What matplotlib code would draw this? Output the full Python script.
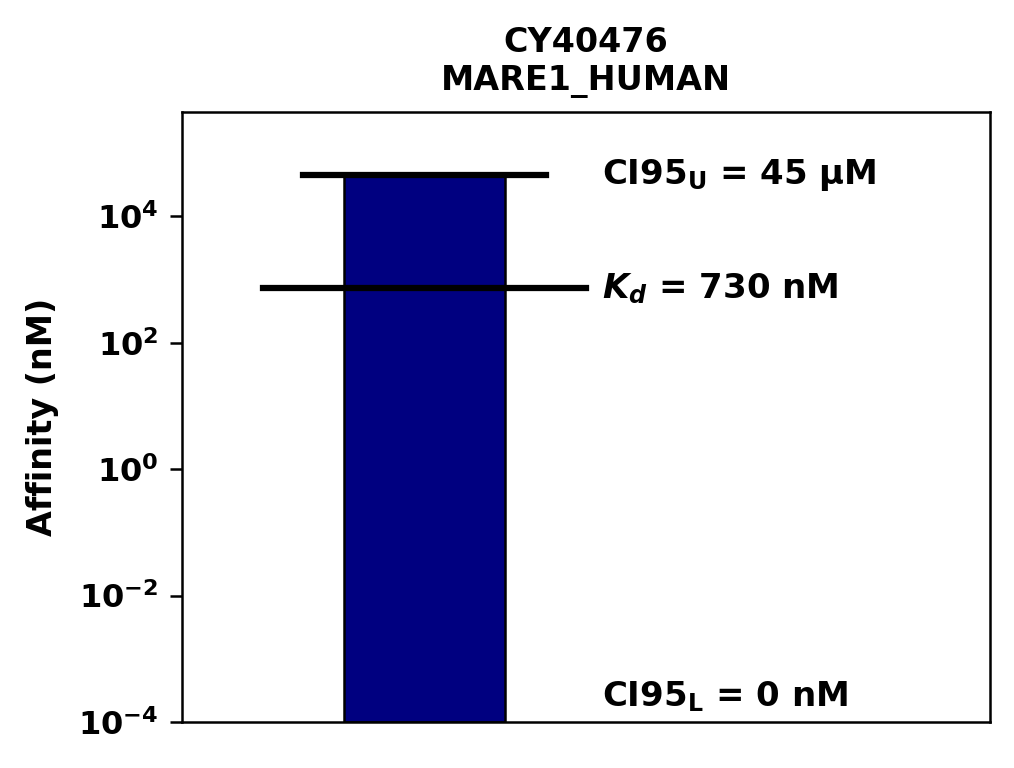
import matplotlib
matplotlib.use('Agg')
import matplotlib.pyplot as plt

# valeurs (nM)
compound = "CY40476"
target = "MARE1_HUMAN"
kd = 730.0
ci_upper = 45000.0
ci_lower = 1e-4
labels = [r"CI95$_{\mathbf{U}}$ = 45 µM", r"$\mathbfit{K_d}$ = 730 nM", r"CI95$_{\mathbf{L}}$ = 0 nM"]

plt.rcParams['font.weight'] = 'bold'
plt.rcParams['axes.linewidth'] = 1.8

fig = plt.figure(figsize=(10.14, 7.68), dpi=100)
ax = fig.add_axes([182/1014, 1-722/768, 808/1014, 610/768])

ax.bar([0.3], [ci_upper - ci_lower], bottom=ci_lower, width=0.2,
       color='#000080', edgecolor='black', linewidth=1.8)
ax.plot([0.15, 0.45], [ci_upper, ci_upper], color='black', lw=4.5)
ax.plot([0.1, 0.5], [kd, kd], color='black', lw=4.5)

ax.set_yscale('log')
ax.set_ylim(1e-4, ci_upper * 10)
ax.set_xlim(0, 1)
ax.set_xticks([])
ax.set_yticks([1e-4, 1e-2, 1, 1e2, 1e4])
ax.minorticks_off()
ax.tick_params(axis='y', labelsize=23, length=9, width=1.8, pad=8)
for t in ax.get_yticklabels():
    t.set_fontweight('bold')

ax.text(0.52, ci_upper, labels[0], fontsize=24.5, fontweight='bold', va='center')
ax.text(0.52, kd, labels[1], fontsize=24.5, fontweight='bold', va='center')
ax.text(0.52, 2.5e-4, labels[2], fontsize=24.5, fontweight='bold', va='center')

ax.set_ylabel("Affinity (nM)", fontsize=24, fontweight='bold', labelpad=14)
ax.set_title(compound + "\n" + target, fontsize=24, fontweight='bold', pad=16)

fig.savefig('out.png', dpi=100)
